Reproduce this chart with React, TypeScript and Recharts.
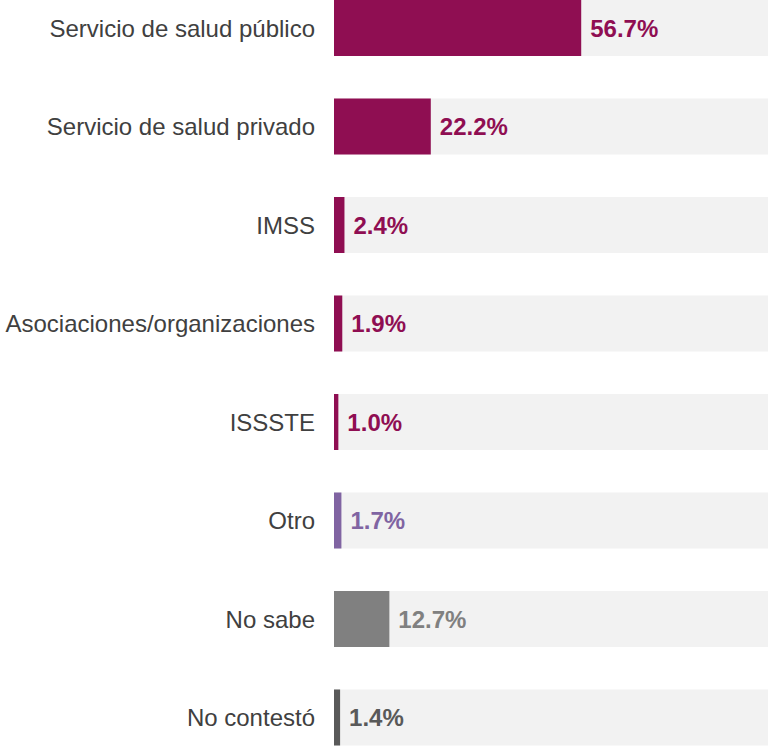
import React from "react";
import { BarChart, Bar, XAxis, YAxis, Cell, LabelList } from "recharts";

const categories = [
  "Servicio de salud público",
  "Servicio de salud privado",
  "IMSS",
  "Asociaciones/organizaciones",
  "ISSSTE",
  "Otro",
  "No sabe",
  "No contestó",
];
const values = [56.7, 22.2, 2.4, 1.9, 1.0, 1.7, 12.7, 1.4];
const colors = ["#8f0e52", "#8f0e52", "#8f0e52", "#8f0e52", "#8f0e52", "#8064a2", "#808080", "#595959"];

const data = categories.map((name, i) => ({ name, value: values[i] }));

const renderLabel = (props: any) => {
  const { x, y, width, height, index, value } = props;
  return (
    <text
      x={x + width + 9}
      y={y + height / 2}
      dy="0.36em"
      fill={colors[index]}
      fontSize={24}
      fontWeight="bold"
      fontFamily="Liberation Sans, Arial, sans-serif"
    >
      {Number(value).toFixed(1)}%
    </text>
  );
};

export default function App() {
  return (
    <div style={{ position: "absolute", left: 0, top: 0, width: 768, height: 746, overflow: "hidden" }}>
      <div style={{ position: "absolute", left: 0, top: -21 }}>
        <BarChart
          width={770}
          height={788}
          data={data}
          layout="vertical"
          margin={{ top: 0, right: 0, bottom: 0, left: 0 }}
        >
          <XAxis type="number" domain={[0, 100]} hide />
          <YAxis
            type="category"
            dataKey="name"
            width={334}
            axisLine={false}
            tickLine={false}
            tickSize={0}
            tickMargin={19}
            interval={0}
            tick={{ fill: "#404040", fontSize: 24, fontFamily: "Liberation Sans, Arial, sans-serif" }}
          />
          <Bar dataKey="value" barSize={56} background={{ fill: "#f2f2f2" }} isAnimationActive={false}>
            {data.map((d, i) => (
              <Cell key={d.name} fill={colors[i]} />
            ))}
            <LabelList dataKey="value" content={renderLabel} />
          </Bar>
        </BarChart>
      </div>
    </div>
  );
}
